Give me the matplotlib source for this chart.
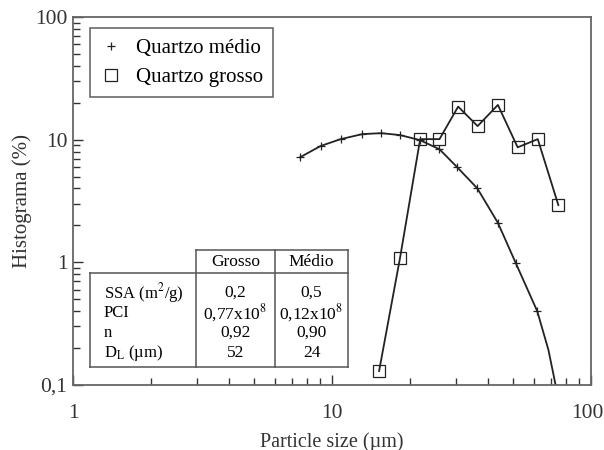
import matplotlib.pyplot as plt
import matplotlib.transforms as mtransforms

plt.rcParams['font.family'] = ['Liberation Serif', 'DejaVu Serif']
plt.rcParams['mathtext.fontset'] = 'stix'

# Quartzo medio (+) e curva ajustada
medio_x = [7.52, 9.04, 10.8, 13.1, 15.5, 18.3, 21.8, 26.0, 30.3, 36.4, 43.7, 51.3, 62.0]
medio_y = [7.18, 8.88, 10.1, 11.1, 11.3, 10.9, 9.94, 8.35, 6.02, 4.01, 2.10, 0.98, 0.40]
ajuste_x = medio_x + [68.5, 73.0, 74.5]
ajuste_y = medio_y + [0.193, 0.10, 0.085]

# Quartzo grosso (quadrados)
grosso_x = [15.2, 18.3, 21.9, 26.0, 30.7, 36.5, 43.7, 52.1, 62.3, 74.8]
grosso_y = [0.13, 1.08, 10.1, 10.1, 18.6, 12.9, 19.2, 8.66, 10.1, 2.93]

# tabela
col_labels = ["Grosso", "Médio"]
row_labels = ["SSA (m$^2$/g)", "PCI", "n", "D$_\\mathrm{L}$ (µm)"]
grosso_vals = ["0,2", "0,77x10$^8$", "0,92", "52"]
medio_vals = ["0,5", "0,12x10$^8$", "0,90", "24"]

fig = plt.figure(figsize=(6.04, 4.5), dpi=100)
ax = fig.add_axes([73/604, 65/450, 518/604, 368/450])

ax.plot(ajuste_x, ajuste_y, color='#222222', lw=1.3)
ax.plot(medio_x, medio_y, ls='none', marker='+', ms=6, mew=0.9, color='#222222')
ax.plot(grosso_x, grosso_y, color='#222222', lw=1.3, marker='s', ms=9, mfc='none', mew=0.9,
        mec='#222222')
# legenda so com marcador
h1, = ax.plot([], [], ls='none', marker='+', ms=6, mew=0.9, color='#222222')
h2, = ax.plot([], [], ls='none', marker='s', ms=8, mfc='none', mew=0.9, color='#222222')

ax.set_xscale('log')
ax.set_yscale('log')
ax.set_xlim(1, 100)
ax.set_ylim(0.1, 100)
ax.set_xticks([1, 10, 100])
ax.set_xticklabels(["1", "10", "100"])
ax.set_yticks([0.1, 1, 10, 100])
ax.set_yticklabels(["0,1", "1", "10", "100"])
ax.tick_params(which='both', direction='in', top=False, right=False, labelsize=15.5, colors='#333333')
ax.tick_params(which='major', length=7, width=1)
ax.tick_params(which='minor', length=5, width=1)
ax.tick_params(axis='x', pad=14)
ax.tick_params(axis='y', pad=4)
for s in ax.spines.values():
    s.set_color('#666666')
    s.set_linewidth(1.3)

# empurra o "100" do eixo x para dentro da figura
lab100 = ax.get_xticklabels()[-1]
lab100.set_transform(lab100.get_transform() + mtransforms.ScaledTranslation(-4/100, 0, fig.dpi_scale_trans))

ax.set_xlabel("Particle size (µm)", fontsize=14.5, color='#333333', labelpad=6)
ax.set_ylabel("Histograma (%)", fontsize=15, color='#333333', labelpad=2)

leg = ax.legend([h1, h2], ["Quartzo médio", "Quartzo grosso"], loc='upper left',
                bbox_to_anchor=((90-73)/518, (385-28)/368), fontsize=15, frameon=True,
                fancybox=False, edgecolor='#444444', handlelength=1.0, handletextpad=0.7,
                borderpad=0.5, labelspacing=0.45, borderaxespad=0)
leg.get_frame().set_linewidth(1.2)


def fx(px):
    return (px - 73) / 518


def fy(py):
    return (385 - py) / 368


tk = dict(transform=ax.transAxes, color='#555555', lw=1.1)
# linhas da tabela
ax.plot([fx(196), fx(348)], [fy(250), fy(250)], **tk)
ax.plot([fx(90), fx(348)], [fy(273), fy(273)], **tk)
ax.plot([fx(90), fx(348)], [fy(367), fy(367)], **tk)
ax.plot([fx(90), fx(90)], [fy(273), fy(367)], **tk)
for xv in [196, 275, 348]:
    ax.plot([fx(xv), fx(xv)], [fy(250), fy(367)], **tk)

fs = 12.5
ax.text(fx(235.5), fy(261.5), col_labels[0], transform=ax.transAxes, ha='center', va='center', fontsize=fs)
ax.text(fx(311.5), fy(261.5), col_labels[1], transform=ax.transAxes, ha='center', va='center', fontsize=fs)
rows_y = [293, 313, 333, 353]
for lab, g, m, yv in zip(row_labels, grosso_vals, medio_vals, rows_y):
    ax.text(fx(104), fy(yv), lab, transform=ax.transAxes, ha='left', va='center', fontsize=fs - 0.5)
    ax.text(fx(235.5), fy(yv), g, transform=ax.transAxes, ha='center', va='center', fontsize=fs)
    ax.text(fx(311.5), fy(yv), m, transform=ax.transAxes, ha='center', va='center', fontsize=fs)

fig.savefig("out.png", dpi=100)
